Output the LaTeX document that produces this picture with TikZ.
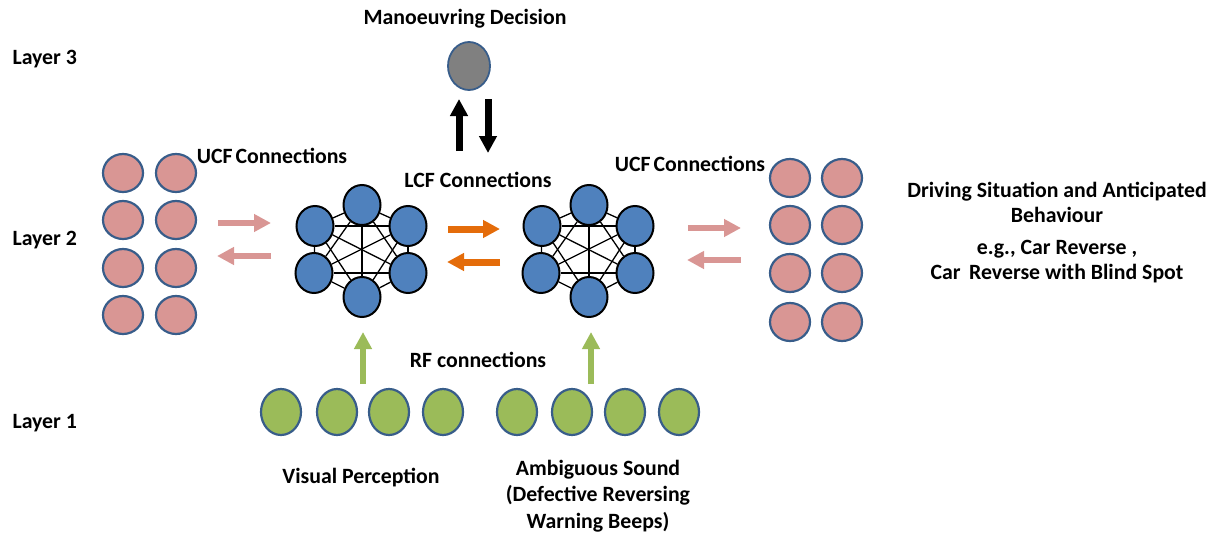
\documentclass[tikz,border=0pt]{standalone}
\usepackage{fontspec}
\setmainfont{Carlito}
\usetikzlibrary{positioning}
\usetikzlibrary{shapes.geometric}
\usetikzlibrary{arrows.meta}

\definecolor{pinkfill}{RGB}{217,150,148}
\definecolor{bluefill}{RGB}{79,129,189}
\definecolor{greenfill}{RGB}{155,187,89}
\definecolor{grayfill}{RGB}{128,128,128}
\definecolor{rimblue}{RGB}{56,93,138}
\definecolor{arroworange}{RGB}{228,108,10}

\begin{document}
\begin{tikzpicture}[x=1pt, y=-1pt,
  every node/.style={font=\fontsize{21.8}{25}\selectfont\bfseries},
  unit/.style={ellipse, draw, inner sep=0pt},
  pinkunit/.style={unit, draw=rimblue, line width=2.2pt, fill=pinkfill, minimum width=40pt, minimum height=38pt},
  greenunit/.style={unit, draw=rimblue, line width=2.2pt, fill=greenfill, minimum width=40pt, minimum height=46pt},
  blueunit/.style={unit, draw=black, line width=2pt, fill=bluefill, minimum width=37pt, minimum height=40pt},
  grayunit/.style={unit, draw=rimblue, line width=1.8pt, fill=grayfill, minimum width=42pt, minimum height=48pt},
  link/.style={line width=1.3pt},
  blockarrow/.style={line width=7pt, -{Triangle[length=17pt, width=17pt]}}
]
  \useasboundingbox (0,0) rectangle (1220,535);

  \node [anchor=west] (layer3) at (9,59) {Layer 3};
  \node [anchor=west] (layer2) at (9,240) {Layer 2};
  \node [anchor=west] (layer1) at (9,423) {Layer 1};

  % layer 3
  \node (decision) at (465,19) {Manoeuvring Decision};
  \node [grayunit] (gray) at (469,66) {};

  % layer 2: two fully connected clusters
  \foreach \cl/\cx in {lcfA/362, lcfB/589} {
    \foreach \k/\dx/\dy in {1/0/-45, 2/46/-24, 3/46/23, 4/0/47, 5/-48/23, 6/-47/-24}
      \node [blueunit] (\cl-\k) at (\cx+\dx, 250+\dy) {};
    \foreach \i in {1,...,5} {
      \pgfmathtruncatemacro\nxt{\i+1}
      \foreach \j in {\nxt,...,6}
        \draw [link] (\cl-\i) -- (\cl-\j);
    }
  }

  % side units
  \foreach \r/\y in {1/173, 2/220, 3/268, 4/315} {
    \node [pinkunit] (ucfL-\r-1) at (123,\y) {};
    \node [pinkunit] (ucfL-\r-2) at (176,\y) {};
  }
  \foreach \r/\y in {1/178, 2/225, 3/273, 4/322} {
    \node [pinkunit] (ucfR-\r-1) at (790,\y) {};
    \node [pinkunit] (ucfR-\r-2) at (842,\y) {};
  }

  % layer 1
  \foreach \k/\x in {1/281, 2/337, 3/389, 4/443}
    \node [greenunit] (vis-\k) at (\x,412) {};
  \foreach \k/\x in {1/517, 2/572, 3/625, 4/679}
    \node [greenunit] (snd-\k) at (\x,412) {};

  % labels
  \node (ucfLtext) at (272,156) {UCF\hspace{-2pt} Connections};
  \node (lcftext) at (478,180) {LCF Connections};
  \node (ucfRtext) at (690,164) {UCF\hspace{-2pt} Connections};
  \node (rftext) at (478,360) {RF connections};
  \node (vistext) at (361,478) {Visual Perception};
  \node [align=center, font=\fontsize{21.8}{26.5}\selectfont\bfseries] (sndtext) at (598,496)
    {Ambiguous Sound\\(Defective Reversing\\Warning Beeps)};
  \node [align=center] (situation) at (1057,233)
    {Driving Situation and Anticipated\\Behaviour\\[7pt]e.g., Car Reverse ,\\Car\, Reverse with Blind Spot};

  % block arrows
  \coordinate (upA) at (459,151);   \coordinate (upB) at (459,99);
  \coordinate (dnA) at (488,99);    \coordinate (dnB) at (488,153);
  \draw [blockarrow, black] (upA) -- (upB);
  \draw [blockarrow, black] (dnA) -- (dnB);

  \coordinate (pL1) at (218,223);   \coordinate (pL2) at (271,223);
  \coordinate (pL3) at (271,256);   \coordinate (pL4) at (217,256);
  \draw [blockarrow, pinkfill, line width=6.5pt] (pL1) -- (pL2);
  \draw [blockarrow, pinkfill, line width=6.5pt] (pL3) -- (pL4);

  \coordinate (pR1) at (688,228);   \coordinate (pR2) at (741,228);
  \coordinate (pR3) at (741,260);   \coordinate (pR4) at (687,260);
  \draw [blockarrow, pinkfill, line width=6.5pt] (pR1) -- (pR2);
  \draw [blockarrow, pinkfill, line width=6.5pt] (pR3) -- (pR4);

  \coordinate (oA) at (448,229);    \coordinate (oB) at (500,229);
  \coordinate (oC) at (500,262);    \coordinate (oD) at (447,262);
  \draw [blockarrow, arroworange] (oA) -- (oB);
  \draw [blockarrow, arroworange] (oC) -- (oD);

  \coordinate (gA) at (363,384);    \coordinate (gB) at (363,332);
  \coordinate (gC) at (591,384);    \coordinate (gD) at (591,332);
  \draw [blockarrow, greenfill, line width=6pt] (gA) -- (gB);
  \draw [blockarrow, greenfill, line width=6pt] (gC) -- (gD);
\end{tikzpicture}
\end{document}
